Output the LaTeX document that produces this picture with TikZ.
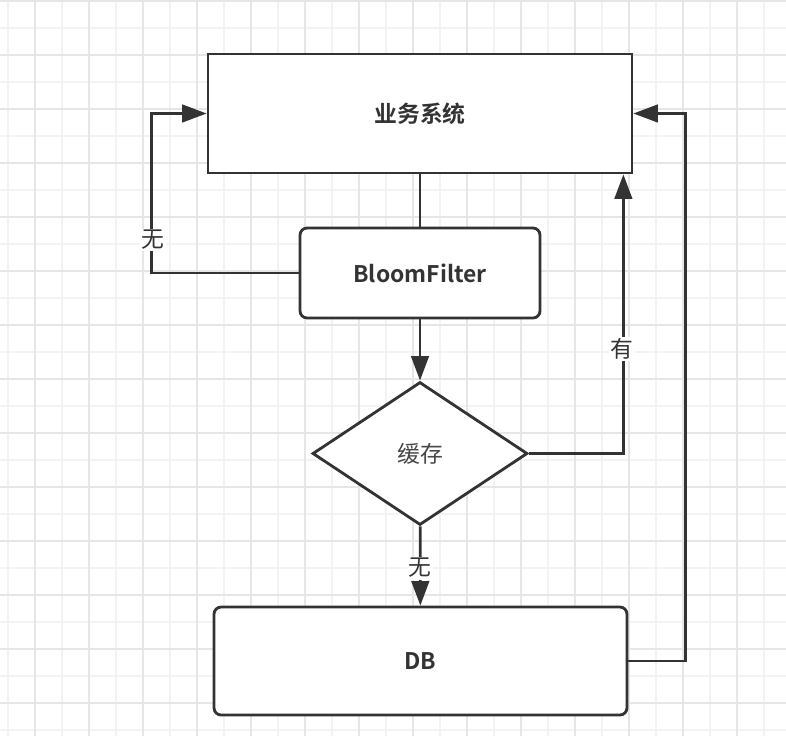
\documentclass[tikz,border=0pt]{standalone}
\usepackage{fontspec}
\setmainfont{Noto Sans CJK SC}[BoldFont={Noto Sans CJK SC Bold}]
\usetikzlibrary{shapes.geometric,arrows.meta}
\definecolor{ink}{HTML}{333333}
\definecolor{gridminor}{HTML}{F3F3F3}
\definecolor{gridmajor}{HTML}{E6E6E6}

\begin{document}
\begin{tikzpicture}[x=0.02cm, y=-0.02cm,
  process/.style ={rectangle, draw=ink, line width=1.6pt, fill=white, text=ink, font=\fontsize{13}{15}\selectfont\bfseries},
  decision/.style ={diamond, draw=ink, line width=1.6pt, fill=white, text=ink, inner sep=0pt, font=\fontsize{13}{15}\selectfont},
  flow/.style ={draw=ink, line width=1.6pt, -{Triangle[length=14pt,width=10pt]}},
  answer/.style ={fill=white, text=ink, inner sep=1pt, font=\fontsize{13}{15}\selectfont}]
 \useasboundingbox (0,0) rectangle (786,736);
 \fill[white] (0,0) rectangle (786,736);
 % background grid
 \foreach \gx in {8,62,...,791}
   \draw[gridminor, line width=0.9pt] (\gx,0) -- (\gx,736);
 \foreach \gy in {28,82,...,736}
   \draw[gridminor, line width=0.9pt] (0,\gy) -- (786,\gy);
 \foreach \gx in {35,89,...,791}
   \draw[gridmajor, line width=0.9pt] (\gx,0) -- (\gx,736);
 \foreach \gy in {1,55,...,736}
   \draw[gridmajor, line width=0.9pt] (0,\gy) -- (786,\gy);

 \node[process, minimum width=8.48cm, minimum height=2.38cm] (sys) at (420,113.5) {业务系统};
 \node[process, rounded corners=4pt, minimum width=4.8cm, minimum height=1.8cm] (bf) at (420,273) {BloomFilter};
 \node[decision, minimum width=4.3cm, minimum height=2.86cm] (cache) at (420,453.5) {\color{ink!90}缓存};
 \node[process, rounded corners=4pt, minimum width=8.26cm, minimum height=2.16cm] (db) at (420.5,661) {DB};

 \draw[draw=ink, line width=1.6pt] (sys) -- (bf);
 \draw[flow] (bf.west) -- ++(-147,0) |- (sys.west);
 \draw[flow] (bf) -- (cache);
 \draw[flow] (cache.east) -| ([xshift=-0.2cm]sys.south east);
 \draw[flow] (cache) -- (db);
 \draw[flow] (db.east) -- ++(57,0) |- (sys.east);

 \node[answer] (no1) at (153,240) {无};
 \node[answer] (yes) at (622,349) {有};
 \node[answer] (no2) at (420,568) {无};
\end{tikzpicture}
\end{document}
